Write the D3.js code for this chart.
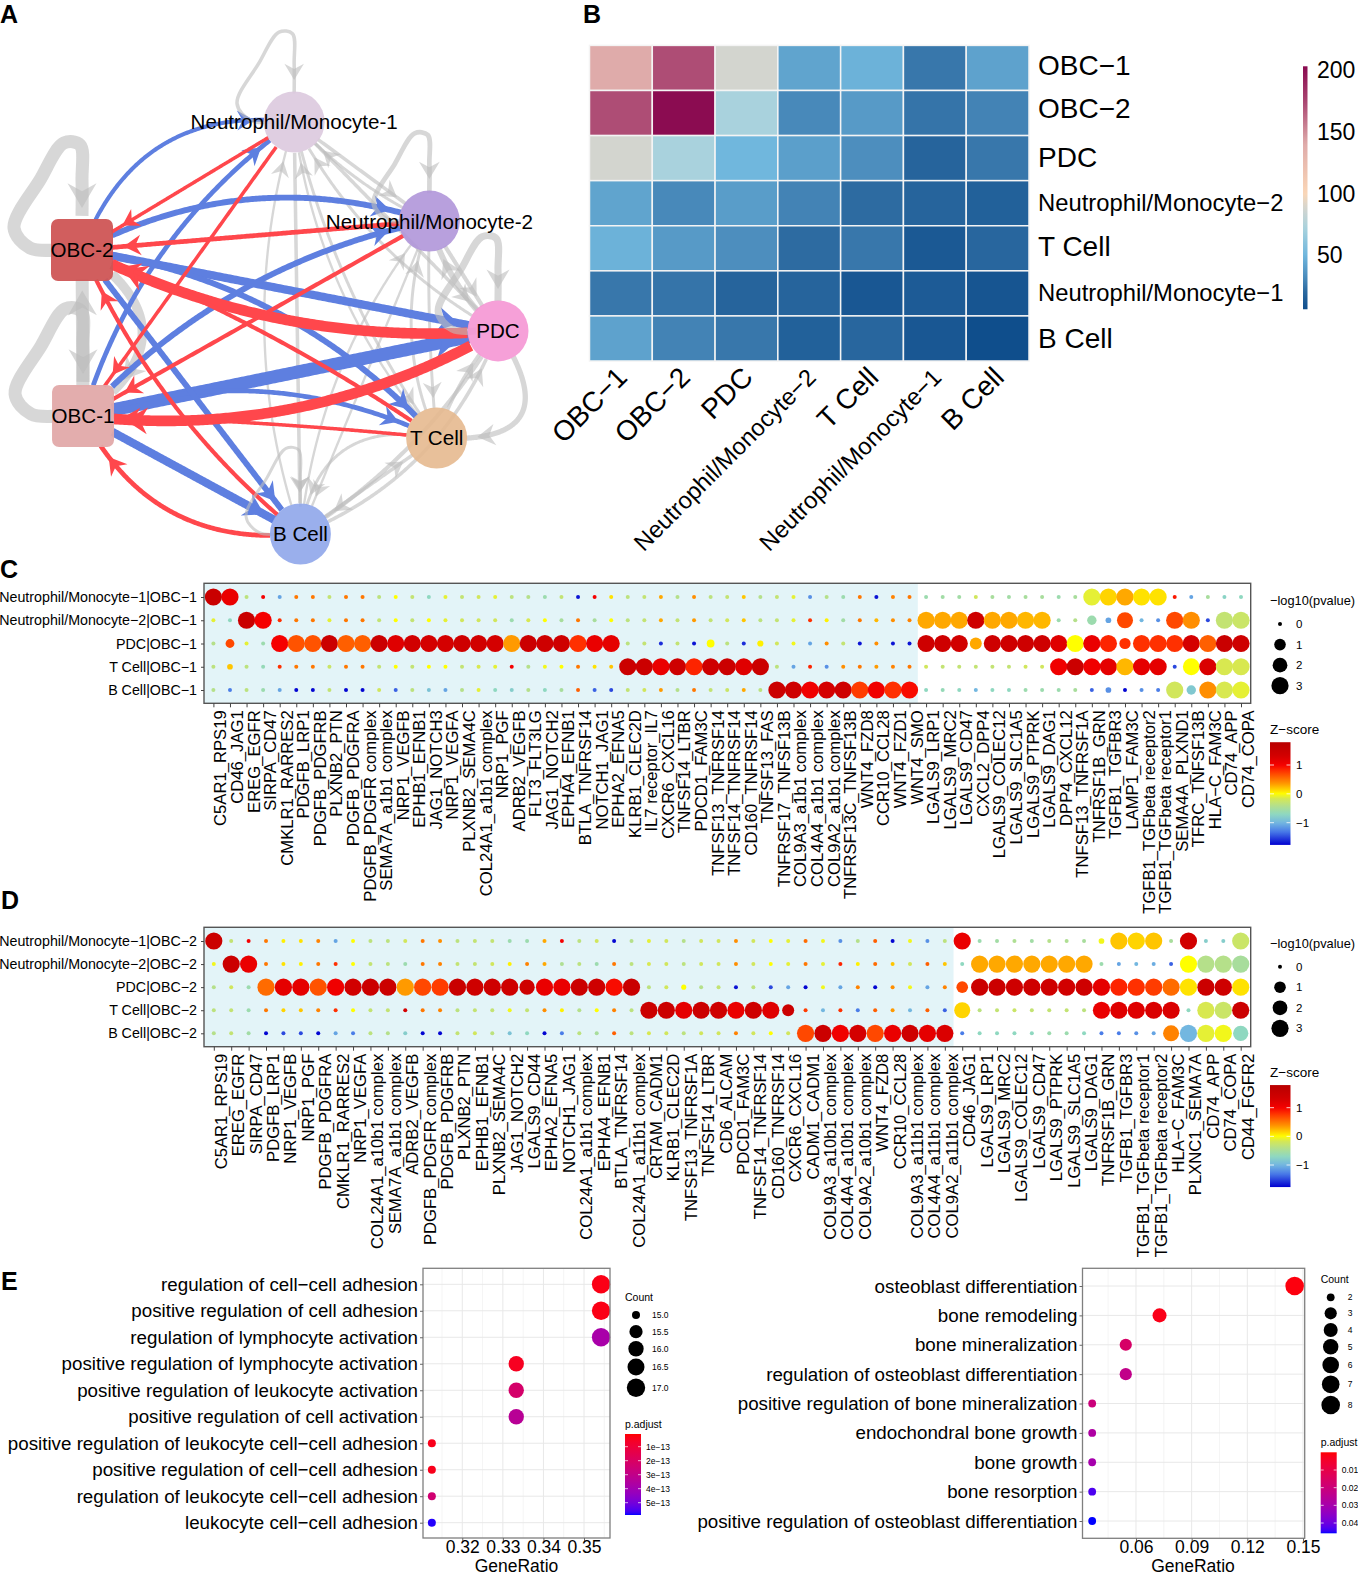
<!DOCTYPE html>
<html>
<head>
<meta charset="utf-8">
<script src="https://cdn.jsdelivr.net/npm/d3@7"></script>
<style>
  body { margin: 0; background: #fff; }
  svg { display: block; }
  text { font-family: "Liberation Sans", Arial, sans-serif; fill: #000; }
</style>
</head>
<body>
<svg id="fig" width="1358" height="1576"></svg>
<script>
// panel B
const heatNames = ["OBC\u22121", "OBC\u22122", "PDC", "Neutrophil/Monocyte\u22122", "T Cell", "Neutrophil/Monocyte\u22121", "B Cell"];
const heatValues = [
  [140, 172, 88, 42, 48, 25, 41],
  [172, 202, 72, 31, 38, 24, 29],
  [88, 72, 50, 40, 33, 18, 25],
  [42, 31, 39, 29, 21, 18, 16],
  [48, 38, 33, 21, 25, 12, 19],
  [25, 24, 18, 18, 11, 13, 10],
  [41, 29, 25, 16, 19, 11, 6]
];
const heatTicks = [50, 100, 150, 200];

// panel A
const nodeNames = ["Neutrophil/Monocyte-1", "Neutrophil/Monocyte-2", "PDC", "T Cell", "B Cell", "OBC-1", "OBC-2"];
const nodeLayoutX = [0.02, 0.67, 1, 0.705, 0.05, -0.995, -1];
const nodeLayoutY = [-1, -0.519, 0.014, 0.534, 1, 0.427, -0.379];
// from, to, weight
const edgeList = [
  [6, 0, 3.5], [5, 0, 4], [6, 1, 5], [5, 1, 5], [6, 2, 7], [5, 2, 11], [6, 3, 5], [5, 3, 4], [6, 4, 5], [5, 4, 7],
  [0, 6, 3], [0, 5, 3], [1, 6, 4], [1, 5, 3.5], [2, 6, 9], [2, 5, 9], [3, 6, 3.5], [3, 5, 3], [4, 6, 3.5], [4, 5, 4],
  [5, 6, 11], [6, 5, 8],
  [0, 1, 3], [1, 0, 2.5], [0, 2, 3], [2, 0, 2.5], [0, 3, 2.5], [3, 0, 2], [0, 4, 3], [4, 0, 2],
  [1, 2, 3.5], [2, 1, 5], [1, 3, 2.5], [3, 1, 2.5], [1, 4, 2], [4, 1, 2],
  [2, 3, 4.5], [3, 2, 3], [2, 4, 3.5], [4, 2, 3], [3, 4, 2.5], [4, 3, 3]
];
const edgeBend = [
  0.39, 0.17, 0.21, 0.16, 0, 0, 0.18, 0.2, 0, 0,
  0, 0, 0, 0, 0.14, 0.165, -0.06, -0.02, 0.12, 0.34,
  0, 0.72,
  0, 0.1, 0, 0.15, -0.1, 0.15, 0, 0.16,
  0, 0.15, -0.03, 0.2, 0, 0.15,
  1, 0.1, 0.12, -0.22, -0.52, 0
];
// node, weight
const loopList = [[6, 11], [5, 11], [0, 3], [1, 4], [2, 6], [4, 2.5]];
const loopScale = [1, 1, 0.84, 0.82, 0.88, 0.8];

// panels C and D
const rowNames = ["Neutrophil/Monocyte\u22121", "Neutrophil/Monocyte\u22122", "PDC", "T Cell", "B Cell"];
const cCols = ["C5AR1_RPS19", "CD46_JAG1", "EREG_EGFR", "SIRPA_CD47", "CMKLR1_RARRES2", "PDGFB_LRP1", "PDGFB_PDGFRB", "PLXNB2_PTN", "PDGFB_PDGFRA", "PDGFB_PDGFR complex",
  "SEMA7A_a1b1 complex", "NRP1_VEGFB", "EPHB1_EFNB1", "JAG1_NOTCH3", "NRP1_VEGFA", "PLXNB2_SEMA4C", "COL24A1_a1b1 complex", "NRP1_PGF", "ADRB2_VEGFB", "FLT3_FLT3LG",
  "JAG1_NOTCH2", "EPHA4_EFNB1", "BTLA_TNFRSF14", "NOTCH1_JAG1", "EPHA2_EFNA5", "KLRB1_CLEC2D", "IL7 receptor_IL7", "CXCR6_CXCL16", "TNFSF14_LTBR", "PDCD1_FAM3C",
  "TNFSF13_TNFRSF14", "TNFSF14_TNFRSF14", "CD160_TNFRSF14", "TNFSF13_FAS", "TNFRSF17_TNFSF13B", "COL9A3_a1b1 complex", "COL4A4_a1b1 complex", "COL9A2_a1b1 complex", "TNFRSF13C_TNFSF13B", "WNT4_FZD8",
  "CCR10_CCL28", "WNT4_FZD1", "WNT4_SMO", "LGALS9_LRP1", "LGALS9_MRC2", "LGALS9_CD47", "CXCL2_DPP4", "LGALS9_COLEC12", "LGALS9_SLC1A5", "LGALS9_PTPRK",
  "LGALS9_DAG1", "DPP4_CXCL12", "TNFSF13_TNFRSF1A", "TNFRSF1B_GRN", "TGFB1_TGFBR3", "LAMP1_FAM3C", "TGFB1_TGFbeta receptor2", "TGFB1_TGFbeta receptor1", "SEMA4A_PLXND1", "TFRC_TNFSF13B",
  "HLA\u2212C_FAM3C", "CD74_APP", "CD74_COPA"];
const cZ = [
  [1.5,1.1,-.35,1,-1.1,.5,.5,-.3,.5,.5, -.35,0,-.3,-.7,-.1,-.3,-.2,-.1,-.35,-.4, -.6,-.3,-1.7,1,.1,-.35,-.3,.3,-.4,.4, -.35,-.3,.2,-.4,-.3,-.1,-1.2,-.4,-.6,.5, -1.7,.45,.5,-.6,-.55,-.55,-.2,-.5,-.55,-.5, -.5,-.6,-.5,-.1,.15,.3,.1,.1,.9,-1.1, -.5,-.75,-.7],
  [-.1,-.7,1.5,1,.8,.5,.5,-.1,.5,.5, -.3,0,-.3,0,-.1,-.2,-.2,-.2,-.6,-.15, 0,-.5,.5,-.5,0,-.35,-.3,.3,-.3,.35, -.3,-.2,.2,-.35,-.3,-.1,.8,.05,-.55,.5, .25,.4,.45,.3,.3,.3,1.4,.3,.3,.25, .25,-.6,-.4,-.6,-1.1,.7,-1,-1.2,.7,.4, -1.5,-.3,-.25],
  [-.4,.7,-.1,-.6,1,.65,.65,1.45,.6,.6, 1.45,1.2,1.35,1.3,1.3,1.4,1.35,1.3,.35,1.45, 1.4,1.4,.8,1.1,1.15,-.35,-.3,-1.6,-.3,-1.7, 0,-.35,-1.6,.05,-.2,-.05,-1.1,.4,-.3,-1.7, .4,-1.7,-1.7,1.4,1.4,1.35,.3,1.4,1.4,1.4, 1.4,1.2,0,1.1,.85,.8,.8,.8,.8,1.3, .6,1.5,1.4],
  [-.35,.2,-.35,-.65,.8,.5,.5,-.25,.5,.5, -.3,0,-.3,0,0,-.3,-.15,-.1,1,-.4, -.05,0,.5,.1,.2,1.45,1.45,1.1,1.4,.85, 1.4,1.45,1.2,1.45,-.35,-1.1,.85,-1.2,.4,.5, .35,.45,.5,-.2,-.3,-.3,-.3,-.3,-.3,-.2, -.2,1.05,1.45,1.05,1.15,.25,1.15,1.15,-1.5,0, 1.25,-.15,-.15],
  [-.4,-1.3,-.35,-.6,-1.1,-1.75,-1.75,-.3,-1.75,-1.75, -.2,-1.4,-.35,-.9,-1.1,-.4,-.1,-.7,-.8,-.4, -.7,-.5,.6,-1.4,-1.5,-.3,-.2,.35,-.4,.5, -.3,-.25,.3,-.35,1.45,1.4,1.05,1.3,1.4,.75, 1.05,.8,.95,-.7,-.65,-.7,-1,-.7,-.7,-.6, -.6,-.6,-.5,-1.4,-1.2,-1.75,-1.2,-1.3,-.2,-.85, .4,-.15,-.1]
];
const cP = [
  [3,3,0,0,0,0,0,0,0,0, 0,0,0,0,0,0,0,0,0,0, 0,0,0,0,0,0,0,0,0,0, 0,0,0,0,0,0,0,0,0,0, 0,0,0,0,0,0,0,0,0,0, 0,0,0,3,3,3,3,3,0,0, 0,0,0],
  [0,0,3,3,0,0,0,0,0,0, 0,0,0,0,0,0,0,0,0,0, 0,0,0,0,0,0,0,0,0,0, 0,0,0,0,0,0,0,0,0,0, 0,0,0,3,3,3,3,3,3,3, 3,0,0,.5,.05,2.5,0,0,3,3, 0,3,3],
  [0,.4,0,0,3,3,3,3,3,3, 3,3,3,3,3,3,3,3,3,3, 3,3,3,3,3,0,0,0,0,0, .25,0,0,.08,0,0,0,0,0,0, 0,0,0,3,3,3,1.1,3,3,3, 3,3,3,3,3,.9,3,3,3,3, 3,3,3],
  [0,.05,0,0,0,0,0,0,0,0, 0,0,0,0,0,0,0,0,0,0, 0,0,0,0,0,3,3,3,3,3, 3,3,3,3,0,0,0,0,0,0, 0,0,0,0,0,0,0,0,0,0, 0,3,3,3,3,3,3,3,0,2.8, 3,3,3],
  [0,0,0,0,0,0,0,0,0,0, 0,0,0,0,0,0,0,0,0,0, 0,0,0,0,0,0,0,0,0,0, 0,0,0,0,3,3,3,3,3,3, 3,3,3,0,0,0,0,0,0,0, 0,0,0,0,.05,0,0,0,3,.5, 3,3,3]
];
const dCols = ["C5AR1_RPS19", "EREG_EGFR", "SIRPA_CD47", "PDGFB_LRP1", "NRP1_VEGFB", "NRP1_PGF", "PDGFB_PDGFRA", "CMKLR1_RARRES2", "NRP1_VEGFA", "COL24A1_a10b1 complex",
  "SEMA7A_a1b1 complex", "ADRB2_VEGFB", "PDGFB_PDGFR complex", "PDGFB_PDGFRB", "PLXNB2_PTN", "EPHB1_EFNB1", "PLXNB2_SEMA4C", "JAG1_NOTCH2", "LGALS9_CD44", "EPHA2_EFNA5",
  "NOTCH1_JAG1", "COL24A1_a1b1 complex", "EPHA4_EFNB1", "BTLA_TNFRSF14", "COL24A1_a11b1 complex", "CRTAM_CADM1", "KLRB1_CLEC2D", "TNFSF13_TNFRSF1A", "TNFSF14_LTBR", "CD6_ALCAM",
  "PDCD1_FAM3C", "TNFSF14_TNFRSF14", "CD160_TNFRSF14", "CXCR6_CXCL16", "CADM1_CADM1", "COL9A3_a10b1 complex", "COL4A4_a10b1 complex", "COL9A2_a10b1 complex", "WNT4_FZD8", "CCR10_CCL28",
  "COL9A3_a11b1 complex", "COL4A4_a11b1 complex", "COL9A2_a11b1 complex", "CD46_JAG1", "LGALS9_LRP1", "LGALS9_MRC2", "LGALS9_COLEC12", "LGALS9_CD47", "LGALS9_PTPRK", "LGALS9_SLC1A5",
  "LGALS9_DAG1", "TNFRSF1B_GRN", "TGFB1_TGFBR3", "TGFB1_TGFbeta receptor1", "TGFB1_TGFbeta receptor2", "HLA\u2212C_FAM3C", "PLXNC1_SEMA7A", "CD74_APP", "CD74_COPA", "CD44_FGFR2"];
const dZ = [
  [1.45,-.3,1,.5,.05,.1,.45,-1.1,0,-.35, -.35,-.2,.5,.4,-.35,-.3,-.3,-.6,-.6,.3, 1,-.35,-.2,-1.75,-.4,-.1,-.2,-.4,-.2,-.2, .4,-.2,0,-.1,.55,-.05,-1.2,-.4,.6,-1.75, -.05,-1.2,-.35,1.1,-.6,-.55,-.45,-.55,-.4,-.45, -.5,-.05,.2,.15,.2,-.5,1.35,-.8,-.8,-.25],
  [-.05,1.45,1.1,.5,.1,.05,.5,.8,0,-.3, -.35,-.6,.5,.45,-.3,-.3,-.2,.05,.45,.3, -.45,-.35,-.6,.5,-.35,-.15,-.2,-.35,-.2,-.2, .4,-.2,0,-.1,.5,-.1,.85,.05,.55,.2, -.2,.6,.2,-.7,.3,.3,.3,.3,.3,.3, .3,-.6,-1.1,-1,-1.05,-1.4,0,-.4,-.4,-.5],
  [-.4,-.2,-.6,.55,1.15,1.15,.65,1.05,1.35,1.45, 1.45,.35,.7,.75,1.5,1.4,1.4,1.4,1.4,1.1, 1.1,1.45,1.4,.95,1.5,-.35,-.2,0,-.4,-.3, -1.7,-.35,-1.5,-1.1,-1.75,-.05,-1.1,.45,-1.75,.4, -.05,-1.1,.45,.7,1.45,1.45,1.4,1.4,1.4,1.35, 1.4,1.15,.85,.8,.75,.55,.1,1.45,1.4,.1],
  [-.35,-.3,-.6,.5,.15,.2,.45,.8,0,-.3, -.3,1.3,.5,.45,-.35,-.3,-.3,-.05,-.3,.4, .05,-.4,0,.45,-.35,1.45,1.45,1.15,1.45,1.4, 1.1,1.4,1.2,1.45,.75,-1,.8,-1.3,.6,.35, -1,.6,-1.4,.15,-.35,-.3,-.25,-.3,-.3,-.3, -.35,1.1,1.2,1.2,1.25,1.25,-.7,-.15,-.25,1.45],
  [-.4,-.3,-.55,-1.75,-1.5,-1.5,-1.75,-1.1,-1.3,-.35, -.4,-.8,-1.75,-1.75,-.3,-.2,-.35,-.9,-.7,-1.75, -1.3,-.35,-.5,.6,-.35,-.15,-.2,-.35,-.2,-.2, .45,-.2,0,-.2,.7,1.45,1.05,1.3,.7,1.1, 1.4,1.15,1.25,-1.3,-.7,-.7,-.7,-.7,-.6,-.6, -.7,-1.3,-1.3,-1.2,-1.1,.45,-1,-.1,-.05,-.7]
];
const dP = [
  [3,0,0,0,0,0,0,0,0,0, 0,0,0,0,0,0,0,0,0,0, 0,0,0,0,0,0,0,0,0,0, 0,0,0,0,0,0,0,0,0,0, 0,0,0,3,0,0,0,0,0,0, 0,.05,3,3,3,0,3,0,0,3],
  [0,3,3,0,0,0,0,0,0,0, 0,0,0,0,0,0,0,0,0,0, 0,0,0,0,0,0,0,0,0,0, 0,0,0,0,0,0,0,0,0,0, 0,0,0,0,3,3,3,3,3,3, 3,0,0,0,0,0,3,3,3,3],
  [0,0,0,3,3,3,3,3,3,3, 3,3,3,3,3,3,3,3,2.2,3, 3,3,3,3,3,0,0,.02,0,0, 0,0,0,0,0,0,0,0,0,0, 0,0,0,1,3,3,3,3,3,3, 3,3,3,3,3,3,3,3,3,3],
  [0,0,0,0,0,0,0,0,0,0, 0,0,0,0,0,0,0,0,0,0, 0,0,0,0,0,3,3,3,3,3, 3,3,3,1.1,0,0,0,0,0,0, 0,0,0,2.5,0,0,0,0,0,0, 0,3,3,3,3,3,0,3,3,3],
  [0,0,0,0,0,0,0,0,0,0, 0,0,0,0,0,0,0,0,0,0, 0,0,0,0,0,0,0,0,0,0, 0,0,0,0,3,3,3,3,3,3, 3,3,3,0,0,0,0,0,0,0, 0,0,0,0,0,2.5,3,3,3,2.2]
];
const zTicks = [1, 0, -1];
const pvalTicks = [0, 1, 2, 3];

// panel E
const leftTerms = ["regulation of cell\u2212cell adhesion", "positive regulation of cell adhesion", "regulation of lymphocyte activation", "positive regulation of lymphocyte activation", "positive regulation of leukocyte activation", "positive regulation of cell activation", "positive regulation of leukocyte cell\u2212cell adhesion", "positive regulation of cell\u2212cell adhesion", "regulation of leukocyte cell\u2212cell adhesion", "leukocyte cell\u2212cell adhesion"];
const leftRatio = [0.3542, 0.3542, 0.3542, 0.3333, 0.3333, 0.3333, 0.3125, 0.3125, 0.3125, 0.3125];
const leftCount = [17, 17, 17, 16, 16, 16, 15, 15, 15, 15];
const leftPadj = [0.3e-13, 0.3e-13, 3.8e-13, 0.5e-13, 2.2e-13, 3.3e-13, 0.4e-13, 0.4e-13, 2.4e-13, 5.8e-13];
const leftCountTicks = [15, 15.5, 16, 16.5, 17];
const leftPadjTicks = [1e-13, 2e-13, 3e-13, 4e-13, 5e-13];
const leftPadjLabels = ["1e\u221213", "2e\u221213", "3e\u221213", "4e\u221213", "5e\u221213"];
const rightTerms = ["osteoblast differentiation", "bone remodeling", "bone mineralization", "regulation of osteoblast differentiation", "positive regulation of bone mineralization", "endochondral bone growth", "bone growth", "bone resorption", "positive regulation of osteoblast differentiation"];
const rightRatio = [0.1455, 0.0727, 0.0545, 0.0545, 0.0364, 0.0364, 0.0364, 0.0364, 0.0364];
const rightCount = [8, 4, 3, 3, 2, 2, 2, 2, 2];
const rightPadj = [0.001, 0.002, 0.016, 0.023, 0.02, 0.028, 0.03, 0.043, 0.0458];
const rightCountTicks = [2, 3, 4, 5, 6, 7, 8];
const rightPadjTicks = [0.01, 0.02, 0.03, 0.04];

const svg = d3.select("#fig");
const defs = svg.append("defs");
let gradId = 0;

function panelLetter(s, x, y) {
  svg.append("text").attr("x", x).attr("y", y).text(s)
    .style("font-size", "25px").style("font-weight", "bold");
}
panelLetter("A", 0, 23);
panelLetter("B", 583, 23);
panelLetter("C", 0, 578);
panelLetter("D", 1, 909);
panelLetter("E", 1, 1290);

// vertical gradient bar built from a colour function
function gradientBar(g, x, y0, y1, w, domainTop, domainBottom, colorFn) {
  const id = "grad" + (gradId++);
  const lg = defs.append("linearGradient").attr("id", id)
    .attr("x1", 0).attr("x2", 0).attr("y1", 0).attr("y2", 1);
  d3.range(41).forEach(i => {
    const t = i / 40;
    lg.append("stop").attr("offset", t).attr("stop-color", colorFn(domainTop + (domainBottom - domainTop) * t));
  });
  g.append("rect").attr("x", x).attr("y", y0).attr("width", w).attr("height", y1 - y0).attr("fill", `url(#${id})`);
}

/* ---------- A: network ---------- */
const netX = d3.scaleLinear().domain([-1, 1]).range([82, 498]);
const netY = d3.scaleLinear().domain([-1, 1]).range([122, 534]);
const edgeWidth = d3.scaleLinear().domain([0, 11]).range([0, 13]);
const nodeFill = ["#dcc9de", "#b096d9", "#f596d4", "#e6b98f", "#8fa6ea", "#e2a9a9", "#cf5555"];
const nodes = nodeNames.map((name, i) => ({ name, x: netX(nodeLayoutX[i]), y: netY(nodeLayoutY[i]), square: name.startsWith("OBC"), fill: nodeFill[i] }));
const isOBC = i => nodes[i].square;
const netBlue = "#5e7fe0", netRed = "#ff474c", netGray = "#bdbdbd";
const netG = svg.append("g");
const lineGen = d3.line();

function inside(n, p, pad) {
  const dx = p[0] - n.x, dy = p[1] - n.y;
  if (n.square) return Math.abs(dx) < 31 + pad && Math.abs(dy) < 31 + pad;
  return Math.hypot(dx, dy) < 31 + pad;
}
function headPath(tip, ang, w) {
  const len = 13 + w * 0.9, half = 8 + w * 0.5;
  const pts = [[0, 0], [-len, -half], [-len * 0.68, 0], [-len, half]];
  const c = Math.cos(ang), s = Math.sin(ang);
  return lineGen(pts.map(p => [tip[0] + p[0] * c - p[1] * s, tip[1] + p[0] * s + p[1] * c])) + "Z";
}
function drawEdgePath(points, w, color, op) {
  netG.append("path").attr("d", lineGen(points)).attr("fill", "none")
    .attr("stroke", color).attr("stroke-width", w).attr("opacity", op);
}
function drawHead(tip, prev, w, color, op) {
  netG.append("path").attr("d", headPath(tip, Math.atan2(tip[1] - prev[1], tip[0] - prev[0]), w))
    .attr("fill", color).attr("opacity", op);
}

// gray first, coloured on top
const order = d3.range(edgeList.length).sort((a, b) => {
  const gray = i => isOBC(edgeList[i][0]) === isOBC(edgeList[i][1]);
  return gray(b) - gray(a);
});
order.forEach(k => {
  const [f, t, wt] = edgeList[k], a = nodes[f], b = nodes[t], w = edgeWidth(wt);
  const dx = b.x - a.x, dy = b.y - a.y;
  const cx = (a.x + b.x) / 2 + edgeBend[k] * dy, cy = (a.y + b.y) / 2 - edgeBend[k] * dx;
  const samples = d3.range(201).map(i => {
    const u = i / 200;
    return [(1 - u) * (1 - u) * a.x + 2 * u * (1 - u) * cx + u * u * b.x, (1 - u) * (1 - u) * a.y + 2 * u * (1 - u) * cy + u * u * b.y];
  });
  const body = samples.filter(p => !inside(a, p, -2) && !inside(b, p, -2));
  const toOBC = isOBC(t) && !isOBC(f), fromOBC = isOBC(f) && !isOBC(t);
  const color = fromOBC ? netBlue : toOBC ? netRed : netGray;
  const op = (fromOBC || toOBC) ? 1 : 0.6;
  drawEdgePath(body, w, color, op);
  const free = samples.filter(p => !inside(b, p, 9));
  drawHead(free[free.length - 1], free[free.length - 4], w, color, op);
});

// self loops, same droplet shape scaled per node
const loopShape = [[-25, 0], [-52, -2], [-68, -22], [-42, -70], [-18, -107], [-2, -105], [0, -70], [0, -34]];
const loopLine = d3.line().curve(d3.curveCatmullRom.alpha(0.5));
loopList.forEach(([n, wt], i) => {
  const s = loopScale[i], nd = nodes[n], w = edgeWidth(wt);
  const pts = loopShape.map(p => [nd.x + p[0] * s, nd.y + p[1] * s]);
  netG.append("path").attr("d", loopLine(pts)).attr("fill", "none")
    .attr("stroke", netGray).attr("stroke-width", w).attr("opacity", 0.6);
  const tip = [nd.x, nd.y - 42];
  drawHead(tip, [nd.x, nd.y - 60], w, netGray, 0.6);
});

const nodeG = svg.append("g").selectAll("g").data(nodes).join("g")
  .attr("transform", d => `translate(${d.x},${d.y})`);
nodeG.filter(d => !d.square).append("circle").attr("r", 30.5).attr("fill", d => d.fill).attr("opacity", 0.9);
nodeG.filter(d => d.square).append("rect").attr("x", -31).attr("y", -31).attr("width", 62).attr("height", 62).attr("rx", 7)
  .attr("fill", d => d.fill).attr("opacity", 0.95);
nodeG.append("text").attr("text-anchor", "middle").attr("dy", "0.36em").style("font-size", "20.6px").text(d => d.name);

/* ---------- B: heatmap ---------- */
const heatColor = d3.scaleLinear()
  .domain([6, 20, 32, 50, 72, 88, 100, 140, 175, 203])
  .range(["#0f4e8c", "#2a689f", "#4b8cbc", "#70b7dd", "#a9d2dd", "#d3d5cf", "#fad6b6", "#dfabaa", "#a94470", "#8a0a50"]);
const hx = d3.scaleBand().domain(heatNames).range([589.5, 1029]);
const hy = d3.scaleBand().domain(heatNames).range([45.4, 361]);
const heatG = svg.append("g");
heatNames.forEach((r, i) => heatNames.forEach((c, j) => {
  heatG.append("rect").attr("x", hx(c)).attr("y", hy(r)).attr("width", hx.bandwidth()).attr("height", hy.bandwidth())
    .attr("fill", heatColor(heatValues[i][j])).attr("stroke", "#f4f4f4").attr("stroke-width", 1.5);
}));
const heatSize = n => n.startsWith("Neutrophil") ? "23.8px" : "28px";
// the row labels do not sit exactly on the row centres in the original
const rowNudge = [-3, -5, -1, -1, -2, -1, -1];
heatG.selectAll(".rlab").data(heatNames).join("text").attr("class", "rlab")
  .attr("x", 1038).attr("y", (d, i) => hy(d) + hy.bandwidth() / 2 + rowNudge[i]).attr("dy", "0.36em")
  .style("font-size", heatSize).text(d => d);
heatG.selectAll(".clab").data(heatNames).join("text").attr("class", "clab")
  .attr("text-anchor", "end")
  .attr("transform", d => `translate(${hx(d) + hx.bandwidth() / 2 + 8},${379}) rotate(-45)`)
  .style("font-size", heatSize).text(d => d);
const heatScaleY = d3.scaleLinear().domain([50, 200]).range([255, 70]);
gradientBar(heatG, 1303, heatScaleY(203), heatScaleY(6), 4.5, 203, 6, heatColor);
heatG.selectAll(".tlab").data(heatTicks).join("text").attr("class", "tlab")
  .attr("x", 1317).attr("y", d => heatScaleY(d)).attr("dy", "0.36em").style("font-size", "23px").text(d => d);

/* ---------- C, D: bubble panels ---------- */
const zColor = d3.scaleLinear()
  .domain([-1.77, -1.3, -1, -0.7, -0.4, -0.15, 0, 0.35, 0.8, 1, 1.3, 1.79])
  .range(["#0000d0", "#4a7de8", "#73b7e0", "#8fd8c0", "#b5e08a", "#d8e850", "#ffff00", "#ff9a00", "#ff3000", "#f50000", "#d40000", "#b80000"]);
const pSize = d3.scaleSqrt().domain([0, 3]).range([2, 8.6]);

function bubblePanel(o) {
  const g = svg.append("g");
  const x = d3.scalePoint().domain(o.cols).range([o.x0, o.x1]);
  const y = d3.scalePoint().domain(o.rows).range([o.y0, o.y1]);
  g.append("rect").attr("x", o.left).attr("y", o.top).attr("width", x(o.cols[o.split]) + (o.x1 - o.x0) / (o.cols.length - 1) / 2 - o.left)
    .attr("height", o.bottom - o.top).attr("fill", "#e3f4f8");
  o.rows.forEach((r, i) => o.cols.forEach((c, j) => {
    g.append("circle").attr("cx", x(c)).attr("cy", y(r)).attr("r", pSize(o.p[i][j])).attr("fill", zColor(o.z[i][j]));
  }));
  g.append("rect").attr("x", o.left).attr("y", o.top).attr("width", o.right - o.left).attr("height", o.bottom - o.top)
    .attr("fill", "none").attr("stroke", "#555").attr("stroke-width", 1.4);
  const ax = g.append("g").attr("transform", `translate(0,${o.bottom})`).call(d3.axisBottom(x).tickSize(4).tickSizeOuter(0));
  ax.select(".domain").remove();
  ax.selectAll(".tick line").attr("stroke", "#444");
  ax.selectAll(".tick text").attr("text-anchor", "end")
    .attr("x", -7).attr("y", 0).attr("dy", "0.36em").attr("dx", 0).style("font-size", "16.65px").attr("fill", "#000")
    .attr("transform", "translate(6.5,0) rotate(-90)");
  const ay = g.append("g").attr("transform", `translate(${o.left},0)`).call(d3.axisLeft(y).tickSize(3).tickSizeOuter(0));
  ay.select(".domain").remove();
  ay.selectAll(".tick line").attr("stroke", "#444");
  ay.selectAll(".tick text").attr("x", -7).style("font-size", "14.25px").attr("fill", "#000");

  // legends
  g.append("text").attr("x", 1270).attr("y", o.legTitleY).attr("dy", "0.36em").style("font-size", "12.8px").text("\u2212log10(pvalue)");
  const ly = d3.scalePoint().domain(pvalTicks).range([o.legY0, o.legY1]);
  pvalTicks.forEach(v => {
    g.append("circle").attr("cx", 1280).attr("cy", ly(v)).attr("r", pSize(v)).attr("fill", "#000");
    g.append("text").attr("x", 1296).attr("y", ly(v)).attr("dy", "0.36em").style("font-size", "11.5px").text(v);
  });
  g.append("text").attr("x", 1270).attr("y", o.zTitleY).attr("dy", "0.36em").style("font-size", "13.5px").text("Z\u2212score");
  const zy = d3.scaleLinear().domain([1, -1]).range([o.zTickTop, o.zTickBottom]);
  gradientBar(g, 1270, zy(1.79), zy(-1.77), 20.5, 1.79, -1.77, zColor);
  zTicks.forEach(v => {
    g.append("line").attr("x1", 1270).attr("x2", 1274).attr("y1", zy(v)).attr("y2", zy(v)).attr("stroke", "#fff").attr("opacity", 0.8);
    g.append("line").attr("x1", 1286.5).attr("x2", 1290.5).attr("y1", zy(v)).attr("y2", zy(v)).attr("stroke", "#fff").attr("opacity", 0.8);
    g.append("text").attr("x", 1296).attr("y", zy(v)).attr("dy", "0.36em").style("font-size", "11.5px").text(v < 0 ? "\u2212" + (-v) : v);
  });
}
bubblePanel({
  cols: cCols, rows: rowNames.map(r => r + "|OBC\u22121"), z: cZ, p: cP, split: 42,
  left: 204, right: 1250.7, top: 583.3, bottom: 703.3,
  x0: 213.4, x1: 1241, y0: 597, y1: 690,
  legTitleY: 600.7, legY0: 624, legY1: 685.7, zTitleY: 729.3, zTickTop: 765, zTickBottom: 822.7
});
bubblePanel({
  cols: dCols, rows: rowNames.map(r => r + "|OBC\u22122"), z: dZ, p: dP, split: 42,
  left: 204, right: 1250.7, top: 927.3, bottom: 1046.7,
  x0: 213.8, x1: 1240.7, y0: 941, y1: 1033.3,
  legTitleY: 943.3, legY0: 966.7, legY1: 1028.3, zTitleY: 1072, zTickTop: 1107.7, zTickBottom: 1165
});

/* ---------- E: dot plots ---------- */
const padjColor = dom => d3.scaleLinear().domain(dom).range(["#ff0000", "#0000ff"]).interpolate(d3.interpolateLab);

function dotPanel(o) {
  const g = svg.append("g");
  const x = d3.scaleLinear().domain(o.xDomain).range([o.left, o.right]);
  const y = d3.scalePoint().domain(o.terms).range([o.y0, o.y1]);
  const color = padjColor(o.padjDomain);
  const size = d3.scaleSqrt().domain([0, o.countTicks[o.countTicks.length - 1] - o.countTicks[0]]).range(o.rRange);
  const rOf = c => size(c - o.countTicks[0]);
  const minor = o.ticks.slice(0, -1).map((t, i) => (t + o.ticks[i + 1]) / 2);
  const step = o.ticks[1] - o.ticks[0];
  minor.unshift(o.ticks[0] - step / 2);
  minor.push(o.ticks[o.ticks.length - 1] + step / 2);
  minor.filter(v => x(v) > o.left && x(v) < o.right).forEach(v => {
    g.append("line").attr("x1", x(v)).attr("x2", x(v)).attr("y1", o.top).attr("y2", o.bottom).attr("stroke", "#efefef").attr("stroke-width", 0.7);
  });
  o.ticks.forEach(v => {
    g.append("line").attr("x1", x(v)).attr("x2", x(v)).attr("y1", o.top).attr("y2", o.bottom).attr("stroke", "#e8e8e8").attr("stroke-width", 1);
  });
  o.terms.forEach(t => {
    g.append("line").attr("x1", o.left).attr("x2", o.right).attr("y1", y(t)).attr("y2", y(t)).attr("stroke", "#e8e8e8").attr("stroke-width", 1);
  });
  o.terms.forEach((t, i) => {
    g.append("circle").attr("cx", x(o.ratio[i])).attr("cy", y(t)).attr("r", rOf(o.count[i])).attr("fill", color(o.padj[i]));
  });
  g.append("rect").attr("x", o.left).attr("y", o.top).attr("width", o.right - o.left).attr("height", o.bottom - o.top)
    .attr("fill", "none").attr("stroke", "#7f7f7f").attr("stroke-width", 1.3);
  const ax = g.append("g").attr("transform", `translate(0,${o.bottom})`)
    .call(d3.axisBottom(x).tickValues(o.ticks).tickFormat(d3.format(".2f")).tickSize(3).tickSizeOuter(0));
  ax.select(".domain").remove();
  ax.selectAll(".tick line").attr("stroke", "#666");
  ax.selectAll(".tick text").style("font-size", "17.5px").attr("fill", "#000").attr("y", 2.5);
  const ay = g.append("g").attr("transform", `translate(${o.left},0)`).call(d3.axisLeft(y).tickSize(3).tickSizeOuter(0));
  ay.select(".domain").remove();
  ay.selectAll(".tick line").attr("stroke", "#666");
  ay.selectAll(".tick text").style("font-size", "18.75px").attr("fill", "#000").attr("x", -5);
  g.append("text").attr("x", o.titleX).attr("y", 1572).attr("text-anchor", "middle").style("font-size", "17.5px").text("GeneRatio");

  // legends
  g.append("text").attr("x", o.legX).attr("y", o.countTitleY).attr("dy", "0.36em").style("font-size", "10.5px").text("Count");
  o.countTicks.forEach((c, i) => {
    g.append("circle").attr("cx", o.legX + o.dotDx).attr("cy", o.countY[i]).attr("r", rOf(c)).attr("fill", "#000");
    g.append("text").attr("x", o.legX + o.labDx).attr("y", o.countY[i]).attr("dy", "0.36em").style("font-size", "8.5px").text(o.countFmt(c));
  });
  g.append("text").attr("x", o.legX).attr("y", o.padjTitleY).attr("dy", "0.36em").style("font-size", "10.5px").text("p.adjust");
  const py = d3.scaleLinear().domain([o.padjTicks[0], o.padjTicks[o.padjTicks.length - 1]]).range(o.padjRange);
  gradientBar(g, o.legX, o.barTop, o.barBottom, 16, o.padjDomain[0], o.padjDomain[1], color);
  o.padjTicks.forEach((v, i) => {
    g.append("line").attr("x1", o.legX).attr("x2", o.legX + 3).attr("y1", py(v)).attr("y2", py(v)).attr("stroke", "#fff").attr("opacity", 0.7);
    g.append("line").attr("x1", o.legX + 13).attr("x2", o.legX + 16).attr("y1", py(v)).attr("y2", py(v)).attr("stroke", "#fff").attr("opacity", 0.7);
    g.append("text").attr("x", o.legX + 21).attr("y", py(v)).attr("dy", "0.36em").style("font-size", "8.5px").text(o.padjLabels[i]);
  });
}
dotPanel({
  terms: leftTerms, ratio: leftRatio, count: leftCount, padj: leftPadj,
  left: 423, right: 610, top: 1268.3, bottom: 1538, y0: 1284.3, y1: 1522.7,
  xDomain: [0.32 - (462.3 - 423) / 4060, 0.35 + (610 - 584) / 4060], ticks: [0.32, 0.33, 0.34, 0.35],
  padjDomain: [0.09e-13, 5.88e-13], rRange: [4, 9.2], titleX: 516.5,
  legX: 625, dotDx: 11, labDx: 27, countTitleY: 1297, countTicks: leftCountTicks, countY: [1315, 1331.7, 1348.7, 1367, 1387.7], countFmt: d3.format(".1f"),
  padjTitleY: 1424, barTop: 1434, barBottom: 1515, padjTicks: leftPadjTicks, padjRange: [1446.7, 1502.7], padjLabels: leftPadjLabels
});
dotPanel({
  terms: rightTerms, ratio: rightRatio, count: rightCount, padj: rightPadj,
  left: 1082.5, right: 1304.7, top: 1268.3, bottom: 1538.3, y0: 1286, y1: 1521,
  xDomain: [0.06 - (1136 - 1082.5) / 1856.7, 0.15 + (1304.7 - 1303) / 1856.7], ticks: [0.06, 0.09, 0.12, 0.15],
  padjDomain: [0, 0.0458], rRange: [3.9, 9.3], titleX: 1193,
  legX: 1320.7, dotDx: 10, labDx: 27, countTitleY: 1279, countTicks: rightCountTicks, countY: [1297.3, 1313.3, 1330, 1346.7, 1365, 1384.3, 1405], countFmt: String,
  padjTitleY: 1442, barTop: 1452.3, barBottom: 1533.3, padjTicks: rightPadjTicks, padjRange: [1470, 1523], padjLabels: rightPadjTicks.map(String)
});
</script>
</body>
</html>
